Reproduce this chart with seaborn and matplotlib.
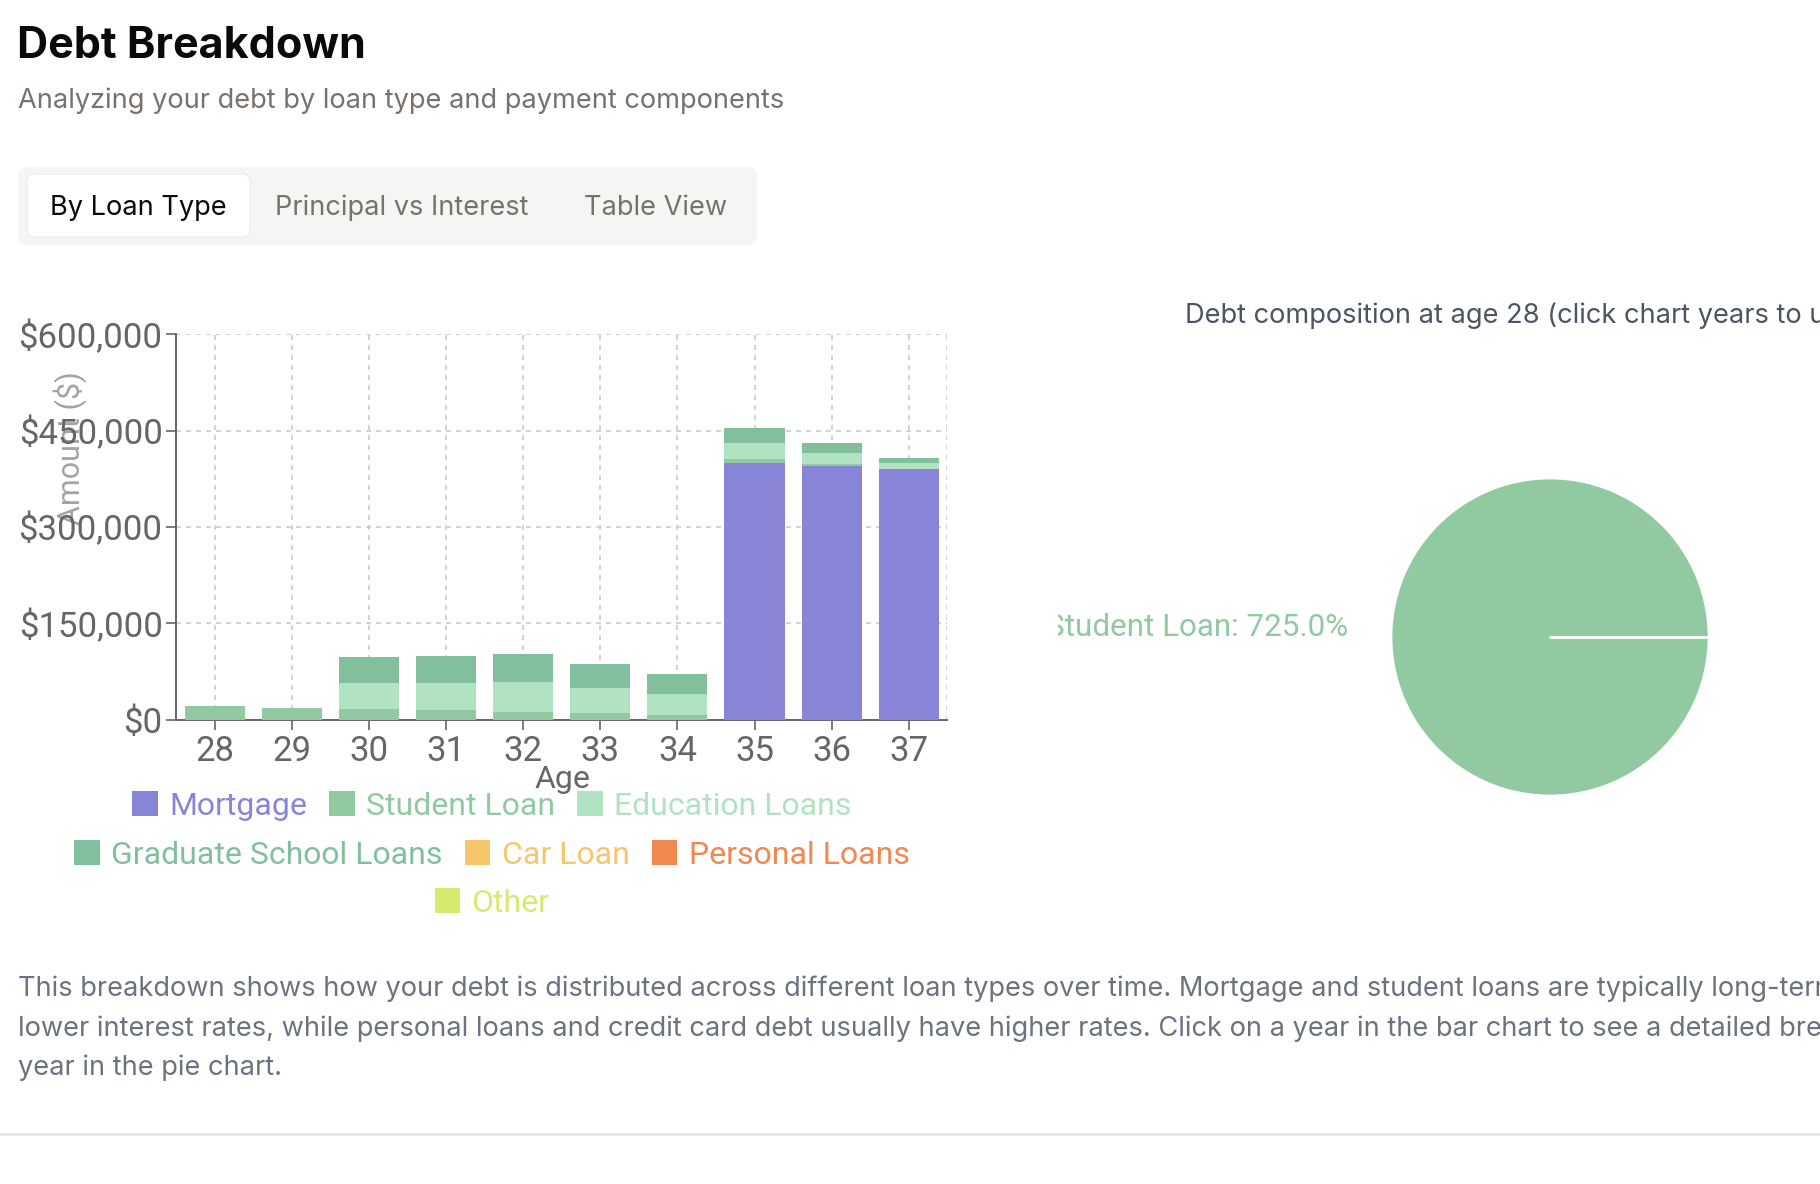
import numpy as np
import pandas as pd
import seaborn as sns
import matplotlib.pyplot as plt
from matplotlib.patches import FancyBboxPatch, Patch
from matplotlib.ticker import FuncFormatter

# Данные графика
ages = ['28', '29', '30', '31', '32', '33', '34', '35', '36', '37']
loan_types = ['Mortgage', 'Student Loan', 'Education Loans', 'Graduate School Loans',
              'Car Loan', 'Personal Loans', 'Other']
mortgage = [0, 0, 0, 0, 0, 0, 0, 399600, 394900, 389800]
student_loan = [20800, 18700, 16600, 14500, 11900, 10400, 7300, 5800, 3100, 800]
education_loans = [0, 0, 40500, 42600, 46200, 38900, 32700, 24900, 16700, 9000]
grad_school_loans = [0, 0, 40000, 42600, 44600, 37900, 30600, 23300, 16100, 7000]
car_loan = [0] * 10
personal_loans = [0] * 10
other = [0] * 10
y_ticks = [0, 150000, 300000, 450000, 600000]

pie_age = '28'
pie_label = 'Student Loan: 725.0%'

colors = ['#8884d8', '#91c9a0', '#b1e3c3', '#82bf9d', '#f7c66a', '#f0884f', '#d7ea6e']

df = pd.DataFrame({
    'Age': ages,
    'Mortgage': mortgage,
    'Student Loan': student_loan,
    'Education Loans': education_loans,
    'Graduate School Loans': grad_school_loans,
    'Car Loan': car_loan,
    'Personal Loans': personal_loans,
    'Other': other,
})

sns.set_theme(style='white')
plt.rcParams['font.family'] = ['Roboto', 'DejaVu Sans']

W, H = 1820, 1184
fig = plt.figure(figsize=(W / 100, H / 100), dpi=100)

# Слой страницы в пиксельных координатах
page = fig.add_axes([0, 0, 1, 1])
page.set_xlim(0, W)
page.set_ylim(H, 0)
page.axis('off')

ui = ['Inter', 'DejaVu Sans']
page.text(17, 46, 'Debt Breakdown', fontsize=31, fontweight='bold', color='#0a0a0a',
          va='center', family=ui)
page.text(18, 101, 'Analyzing your debt by loan type and payment components', fontsize=19.6,
          color='#78716c', va='center', family=ui)

page.add_patch(FancyBboxPatch((18, 167), 739, 78, boxstyle='round,pad=0,rounding_size=10',
                              fc='#f5f5f4', ec='none'))
page.add_patch(FancyBboxPatch((27, 174), 223, 63, boxstyle='round,pad=0,rounding_size=8',
                              fc='white', ec='#ececec', lw=0.8))
page.text(50, 208, 'By Loan Type', fontsize=19.6, color='#0a0a0a', va='center', family=ui)
page.text(275, 208, 'Principal vs Interest', fontsize=19.6, color='#78716c', va='center', family=ui)
page.text(584, 208, 'Table View', fontsize=19.6, color='#78716c', va='center', family=ui)

page.text(1185, 316, f'Debt composition at age {pie_age} (click chart years to update)',
          fontsize=19.6, color='#4b5563', va='center', family=ui)

paragraph = [
    'This breakdown shows how your debt is distributed across different loan types over time. '
    'Mortgage and student loans are typically long-term debts with',
    'lower interest rates, while personal loans and credit card debt usually have higher rates. '
    'Click on a year in the bar chart to see a detailed breakdown for that',
    'year in the pie chart.',
]
for i, line in enumerate(paragraph):
    page.text(18, 989 + i * 39.5, line, fontsize=19.6, color='#6b7280', va='center', family=ui)

page.plot([0, W], [1134, 1134], color='#e5e5e5', lw=2)

page.text(70, 448, 'Amount ($)', rotation=90, fontsize=22, color='#a3a3a3', ha='center', va='center')
page.text(562, 779, 'Age', fontsize=23, color='#666666', ha='center', va='center')

# Столбчатая диаграмма с накоплением
ax = fig.add_axes([176.4 / W, 1 - 719.6 / H, 770.8 / W, 385.3 / H])
ax.set_facecolor('none')
bottom = np.zeros(len(ages))
for name, c in zip(loan_types, colors):
    vals = df[name].to_numpy(dtype=float)
    sns.barplot(x=df['Age'], y=vals, bottom=bottom, color=c, width=0.78, errorbar=None,
                linewidth=0, saturation=1, ax=ax, zorder=3)
    bottom += vals

ax.set_xlim(-0.5, len(ages) - 0.5)
ax.set_ylim(0, 600000)
ax.set_yticks(y_ticks)
ax.yaxis.set_major_formatter(FuncFormatter(lambda v, p: f'${v:,.0f}'))
ax.set_xlabel('')
ax.set_ylabel('')
ax.grid(True, color='#cccccc', linestyle=(0, (3, 3)), linewidth=1.2, zorder=0)
ax.axvline(len(ages) - 0.5, color='#cccccc', linestyle=(0, (3, 3)), linewidth=1.2, zorder=0)
for s in ['top', 'right']:
    ax.spines[s].set_visible(False)
for s in ['left', 'bottom']:
    ax.spines[s].set_color('#666666')
    ax.spines[s].set_linewidth(1.4)
ax.tick_params(axis='both', direction='out', length=7, width=1.2, color='#666666',
               labelcolor='#666666', labelsize=25, left=True, bottom=True)
ax.tick_params(axis='x', pad=4)
ax.tick_params(axis='y', pad=3)

# Легенда в три строки
rows = [[0, 1, 2], [3, 4, 5], [6]]
row_y = [806, 855, 903]
for idxs, yy in zip(rows, row_y):
    handles = [Patch(facecolor=colors[i], edgecolor='none') for i in idxs]
    fig.legend(handles, [loan_types[i] for i in idxs], loc='center',
               bbox_to_anchor=(492 / W, 1 - yy / H), ncol=len(idxs), frameon=False,
               fontsize=23, handlelength=0.8, handleheight=0.8, handletextpad=0.35,
               columnspacing=0.7, labelcolor=[colors[i] for i in idxs], borderaxespad=0)

# Круговая диаграмма
cx, cy, r = 1550, H - 637, 159
clip_left = 1058
pax = fig.add_axes([clip_left / W, 1 - 900 / H, (W - clip_left) / W, 520 / H])
pie_vals = df.loc[df['Age'] == pie_age, loan_types].iloc[0]
pie_vals = pie_vals[pie_vals > 0]
pax.pie(pie_vals.values, colors=[colors[loan_types.index(n)] for n in pie_vals.index],
        radius=r, center=(cx, cy), startangle=0, counterclock=True,
        wedgeprops=dict(edgecolor='white', linewidth=2))
# белая граница сектора (начальный радиус)
pax.plot([cx, cx + r], [cy, cy], color='white', lw=2, zorder=5)
pax.set_xlim(clip_left, W)
pax.set_ylim(H - 900, H - 380)
pax.set_aspect('auto')
pax.axis('off')
pax.text(1348, H - 628, pie_label, fontsize=22.6, color=colors[1], ha='right', va='center',
         clip_on=True)

fig.savefig('out.png', dpi=100)
